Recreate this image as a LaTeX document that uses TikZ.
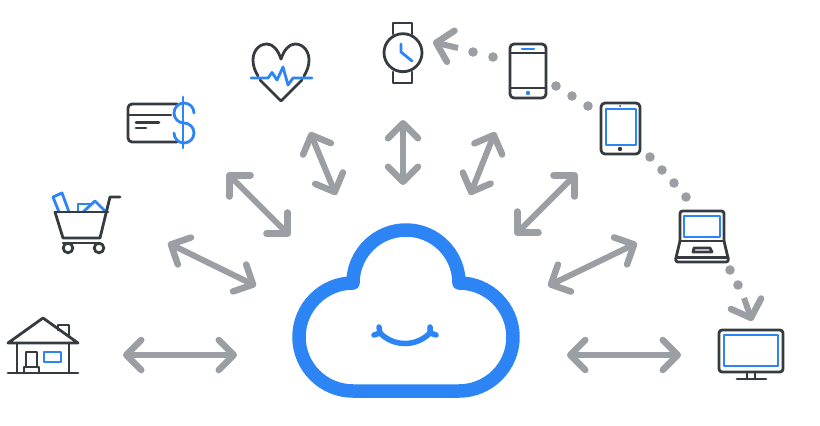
\documentclass[tikz,border=0pt]{standalone}
\usepackage{tikz}
\usetikzlibrary{arrows.meta}
\definecolor{inkdark}{HTML}{363B42}
\definecolor{inkblue}{HTML}{2D84F4}
\definecolor{inkgray}{HTML}{9B9EA2}
\begin{document}
\begin{tikzpicture}[
  x=1pt, y=-1pt,
  icon/.style={draw=inkdark, line width=2.8pt, line join=round, line cap=round},
  accent/.style={draw=inkblue, line width=2.8pt, line join=round, line cap=round},
  cloudline/.style={draw=inkblue, line width=13.5pt, line join=round},
  smileline/.style={draw=inkblue, line width=5.5pt, line cap=round},
  twoway/.style={draw=inkgray, line width=6pt, {Straight Barb[round,length=15pt,width=30pt,line width=6.5pt]}-{Straight Barb[round,length=15pt,width=30pt,line width=6.5pt]}},
  oneway/.style={draw=inkgray, line width=6pt, -{Straight Barb[round,length=15pt,width=32pt,line width=6.5pt]}},
  trail/.style={fill=inkgray}
]
\useasboundingbox (0,0) rectangle (820,426);

\coordinate (homeend) at (123,355);
\coordinate (homehub) at (237,355);
\coordinate (cartend) at (168,243);
\coordinate (carthub) at (256,286);
\coordinate (cardend) at (227,173);
\coordinate (cardhub) at (290,236);
\coordinate (heartend) at (310,132);
\coordinate (hearthub) at (336,195);
\coordinate (watchend) at (403,120);
\coordinate (watchhub) at (403,185);
\coordinate (phoneend) at (495,132);
\coordinate (phonehub) at (470,195);
\coordinate (tabletend) at (577,173);
\coordinate (tablethub) at (515,235);
\coordinate (laptopend) at (637,243);
\coordinate (laptophub) at (548,286);
\coordinate (screenend) at (681,355);
\coordinate (screenhub) at (567,355);
\coordinate (trailstart) at (458,48);
\coordinate (trailwatch) at (433,42);
\coordinate (trailmid) at (744,298);
\coordinate (trailscreen) at (752,321);

\foreach \from/\to in {homeend/homehub, cartend/carthub, cardend/cardhub, heartend/hearthub, watchend/watchhub, phoneend/phonehub, tabletend/tablethub, laptopend/laptophub, screenend/screenhub}
  \draw[twoway] (\from) -- (\to);

\draw[oneway] (trailstart) -- (trailwatch);
\draw[oneway] (trailmid) -- (trailscreen);
\foreach \dotx/\doty in {473/52, 493/57, 556/86, 572/96, 588/106, 650/157, 662/170, 674/183, 686/197, 730/270, 738/285}
  \fill[trail] (\dotx,\doty) circle[radius=4.8];

\draw[cloudline] (353,391) arc[start angle=90, end angle=270, radius=54]
  arc[start angle=180, end angle=360, radius=53]
  arc[start angle=270, end angle=450, radius=54] -- cycle;
\draw[smileline] (380,333) .. controls (394,347) and (416,347) .. (430,333);
\draw[smileline] (379,327) -- (380,333) -- (374,335);
\draw[smileline] (430,327) -- (430,333) -- (436,335);

\draw[icon] (8,373) -- (78,373);
\draw[icon] (8,343) -- (43,318) -- (78,343) -- cycle;
\draw[icon] (17,343) -- (17,373);
\draw[icon] (69,343) -- (69,373);
\draw[icon] (58,330) -- (58,325) -- (69,325) -- (69,336);
\draw[icon] (26,367) -- (26,352) -- (37,352) -- (37,367);
\draw[icon] (24,373) -- (24,367) -- (39,367) -- (39,373);
\draw[accent] (44,352) rectangle (61,362);

\draw[accent] (59,212) -- (53,197) -- (62,193) -- (69,212);
\draw[accent] (78,212) -- (78,204) -- (92,204);
\draw[accent] (83,212) -- (95,201) -- (106,212);
\draw[icon] (55,212) -- (108,212);
\draw[icon] (55,212) -- (63,238) -- (100,238) -- (110,197) -- (120,197);
\draw[icon] (63,243) -- (100,243);
\draw[icon] (68,248) circle[radius=4.8];
\draw[icon] (99,248) circle[radius=4.8];

\draw[icon] (177,104) -- (132,104) arc[start angle=270, end angle=180, radius=4] -- (128,138) arc[start angle=180, end angle=90, radius=4] -- (177,142);
\draw[icon] (128,115) -- (171,115);
\draw[icon] (136,122.7) -- (159,122.7);
\draw[icon] (136,128) -- (146,128);
\draw[accent] (183,97) -- (183,148);
\draw[accent] (194,113) arc[start angle=360, end angle=90, radius=10]
  arc[start angle=270, end angle=540, radius=10];

\draw[icon] (281,59) .. controls (278,50) and (273,44) .. (267,44) .. controls (258,44) and (253,52) .. (253,60) .. controls (253,66) and (255,71) .. (258,76);
\draw[icon] (281,59) .. controls (284,50) and (289,44) .. (295,44) .. controls (304,44) and (309,52) .. (309,60) .. controls (309,66) and (307,71) .. (304,76);
\draw[icon] (260,80) -- (281,101) -- (302,80);
\draw[accent] (251,78) -- (268,78) -- (272,72.5) -- (277,80) -- (283,67) -- (288,85) -- (293,78) -- (312,78);

\draw[icon] (393,34) -- (393,23) -- (412,23) -- (412,34);
\draw[icon] (393,72) -- (393,83) -- (412,83) -- (412,72);
\draw[icon] (403,52.7) circle[radius=19];
\draw[accent] (401,44) -- (401,52) -- (412,61);

\draw[icon, rounded corners=4pt] (510,44) rectangle (546,98);
\draw[icon] (510,53) -- (546,53);
\draw[icon] (510,88) -- (546,88);
\draw[accent] (522,49) -- (534,49);
\fill[inkblue] (528,93) circle[radius=2.2];

\draw[icon, rounded corners=4pt] (601,103) rectangle (640,154);
\draw[accent, line cap=butt] (606,109) rectangle (636,145);
\fill[inkdark] (620,106) circle[radius=1];
\fill[inkdark] (620,149) circle[radius=2.2];

\draw[icon, rounded corners=2.5pt] (680,241) -- (680,211) -- (724,211) -- (724,241);
\draw[accent] (684,216) rectangle (720,237);
\draw[icon] (680,241) -- (724,241);
\draw[icon, rounded corners=3pt] (680,241) -- (675,262) -- (729,262) -- (724,241);
\draw[icon] (676,257.5) -- (728,257.5);
\draw[icon] (693,252) -- (694,248) -- (710,248) -- (712,252) -- cycle;

\draw[icon, rounded corners=3pt] (719,330) rectangle (783,372);
\draw[accent] (724,335) rectangle (778,366);
\draw[icon] (747,372) -- (747,379);
\draw[icon] (755,372) -- (755,379);
\draw[icon] (737,379) -- (766,379);
\end{tikzpicture}
\end{document}
